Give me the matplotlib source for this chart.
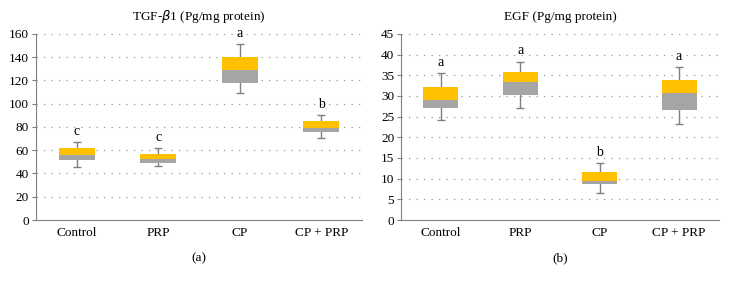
import numpy as np
import matplotlib.pyplot as plt

plt.rcParams['font.family'] = ['Liberation Serif', 'DejaVu Serif']

groups = ['Control', 'PRP', 'CP', 'CP + PRP']

# TGF-beta1 panel
tgf_low = [45.3, 46.5, 109.0, 70.3]
tgf_q1 = [51.6, 49.3, 118.1, 75.4]
tgf_med = [56.2, 52.2, 129.0, 79.4]
tgf_q3 = [61.6, 56.8, 139.9, 85.2]
tgf_high = [66.8, 61.6, 151.4, 90.3]
tgf_letters = ['c', 'c', 'a', 'b']

# EGF panel
egf_low = [24.1, 27.1, 6.6, 23.1]
egf_q1 = [27.0, 30.3, 8.8, 26.7]
egf_med = [28.9, 33.4, 9.4, 30.7]
egf_q3 = [32.2, 35.9, 11.6, 33.9]
egf_high = [35.5, 38.3, 13.8, 36.9]
egf_letters = ['a', 'a', 'b', 'a']

YELLOW = '#FFC000'
GRAY = '#A5A5A5'
LINE = '#808080'


def draw_panel(ax, low, q1, med, q3, high, letters, ymax, step, title, tag):
    x = np.arange(len(groups))
    q1, med, q3 = np.array(q1), np.array(med), np.array(q3)
    # whiskers behind boxes
    ax.vlines(x, low, high, color=LINE, lw=1, zorder=2)
    ax.hlines(low, x - 0.05, x + 0.05, color=LINE, lw=1, zorder=2)
    ax.hlines(high, x - 0.05, x + 0.05, color=LINE, lw=1, zorder=2)
    ax.bar(x, med - q1, bottom=q1, width=0.44, color=GRAY, zorder=3)
    ax.bar(x, q3 - med, bottom=med, width=0.44, color=YELLOW, zorder=3)
    for xi, hi, lab in zip(x, high, letters):
        ax.annotate(lab, (xi, hi), xytext=(0, 3), textcoords='offset points',
                    ha='center', va='bottom', fontsize=10)

    ax.set_xlim(-0.5, len(groups) - 0.5)
    ax.set_ylim(0, ymax)
    ax.set_yticks(np.arange(0, ymax + 1, step))
    ax.set_xticks(x)
    ax.set_xticklabels(groups)
    for yv in np.arange(step, ymax + 1, step):
        ax.axhline(yv, color='#999999', lw=0.9, ls=(0, (1, 5)), zorder=1)
    for s in ['top', 'right']:
        ax.spines[s].set_visible(False)
    ax.spines['left'].set_color(LINE)
    ax.spines['bottom'].set_color(LINE)
    ax.tick_params(axis='y', length=3, color=LINE, labelsize=9.5, pad=2)
    ax.tick_params(axis='x', length=0, labelsize=9.5, pad=5)
    ax.set_title(title, fontsize=9.5, pad=10)
    ax.text(0.5, -0.205, tag, transform=ax.transAxes, ha='center', va='center', fontsize=9.5)


fig = plt.figure(figsize=(7.32, 2.85), dpi=100)
ax1 = fig.add_axes([0.049, 0.228, 0.4455, 0.653])
ax2 = fig.add_axes([0.548, 0.228, 0.434, 0.653])

draw_panel(ax1, tgf_low, tgf_q1, tgf_med, tgf_q3, tgf_high, tgf_letters,
           160, 20, r'TGF-$\beta$1 (Pg/mg protein)', '(a)')
draw_panel(ax2, egf_low, egf_q1, egf_med, egf_q3, egf_high, egf_letters,
           45, 5, 'EGF (Pg/mg protein)', '(b)')

fig.savefig('out.png', dpi=100)
